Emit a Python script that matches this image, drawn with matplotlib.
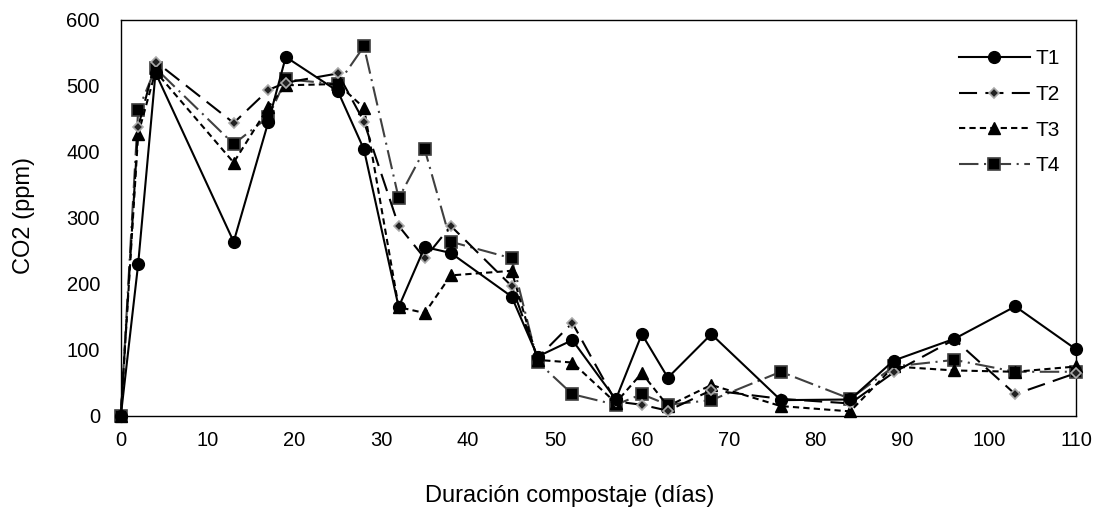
import numpy as np
import matplotlib
matplotlib.use("Agg")
import matplotlib.pyplot as plt

plt.rcParams['font.family'] = ['Liberation Sans', 'DejaVu Sans']
plt.rcParams['lines.scale_dashes'] = False

# dias de compostaje
dias = [0, 2, 4, 13, 17, 19, 25, 28, 32, 35, 38, 45, 48, 52, 57, 60, 63, 68, 76, 84, 89, 96, 103, 110]

t1 = [0, 230, 520, 264, 446, 544, 492, 404, 165, 256, 247, 181, 90, 115, 25, 124, 58, 124, 24, 25, 84, 117, 166, 101]
t2 = [0, 438, 537, 444, 494, 505, 519, 446, 288, 239, 288, 197, 88, 141, 22, 17, 8, 39, 26, 19, 66, 116, 33, 65]
t3 = [0, 427, 522, 384, 468, 501, 503, 467, 165, 156, 213, 220, 85, 81, 20, 65, 15, 47, 15, 7, 75, 69, 67, 75]
t4 = [0, 463, 527, 412, 453, 510, 503, 560, 330, 404, 264, 239, 82, 33, 17, 33, 17, 24, 67, 26, 75, 85, 67, 67]

fig = plt.figure(figsize=(10.98, 5.07), dpi=100)
ax = fig.add_axes([0.110, 0.1795, 0.870, 0.7811])

ax.plot(dias, t1, color='black', lw=1.5, linestyle='-', marker='o', markersize=8.5,
        markerfacecolor='black', markeredgecolor='black', label='T1', clip_on=False, zorder=5)
ax.plot(dias, t2, color='black', lw=1.5, linestyle=(0, (13, 6)), marker='D', markersize=5.5,
        markerfacecolor='#222222', markeredgecolor='#aaaaaa', markeredgewidth=1.2, label='T2', clip_on=False, zorder=4)
ax.plot(dias, t3, color='black', lw=1.5, linestyle=(0, (4.5, 3)), marker='^', markersize=8,
        markerfacecolor='black', markeredgecolor='black', label='T3', clip_on=False, zorder=3)
ax.plot(dias, t4, color='#404040', lw=1.5, linestyle=(0, (14, 4, 1.5, 4)), marker='s', markersize=8,
        markerfacecolor='black', markeredgecolor='#404040', markeredgewidth=1.2, label='T4', clip_on=False, zorder=2)

ax.set_xlim(0, 110)
ax.set_ylim(0, 600)
ax.set_xticks(np.arange(0, 111, 10))
ax.set_yticks(np.arange(0, 601, 100))
ax.tick_params(length=0, labelsize=14.5)
ax.tick_params(axis='x', pad=11)
ax.tick_params(axis='y', pad=15)
for s in ax.spines.values():
    s.set_linewidth(1.0)

# titulos de ejes (posicion como en el original)
fig.text(570 / 1098, 1 - 502 / 507, 'Duración compostaje (días)', fontsize=17,
         ha='center', va='baseline')
fig.text(24 / 1098, 1 - 216 / 507, 'CO2 (ppm)', fontsize=17, rotation=90,
         ha='center', va='center')

ax.legend(loc='upper right', bbox_to_anchor=(1.003, 0.973), frameon=False, fontsize=15,
          handlelength=3.4, handletextpad=0.3, labelspacing=0.8)

fig.savefig('out.png', dpi=100)
